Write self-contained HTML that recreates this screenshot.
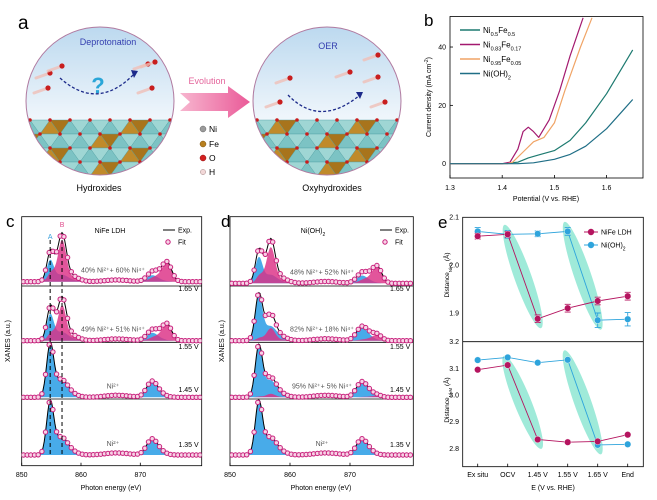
<!DOCTYPE html>
<html><head><meta charset="utf-8">
<style>
html,body{margin:0;padding:0;background:#fff;}
svg{display:block;font-family:"Liberation Sans",Arial,sans-serif;}
</style></head>
<body>
<svg id="fig" width="657" height="500" viewBox="0 0 657 500" xmlns="http://www.w3.org/2000/svg">
<defs>
  <linearGradient id="sky" x1="0" y1="0" x2="0" y2="1">
    <stop offset="0" stop-color="#bcd9ef"/><stop offset="0.6" stop-color="#eef5fb"/><stop offset="1" stop-color="#ffffff"/>
  </linearGradient>
  <linearGradient id="arrowg" x1="0" y1="0" x2="1" y2="0">
    <stop offset="0" stop-color="#f7b6cf"/><stop offset="1" stop-color="#ea5a98"/>
  </linearGradient>
  <clipPath id="clipL"><circle cx="100" cy="101" r="74"/></clipPath>
  <clipPath id="clipR"><circle cx="327" cy="101" r="74"/></clipPath>
  <clipPath id="clipC"><rect x="21.7" y="216" width="180" height="250"/></clipPath>
  <clipPath id="clipD"><rect x="230" y="216" width="183" height="250"/></clipPath>
  <clipPath id="clipB"><rect x="450" y="16" width="193" height="162"/></clipPath>
</defs>

<!-- Panel a -->
<g>
  <text x="18" y="29" font-size="19">a</text>
  <circle cx="100" cy="101" r="74" fill="url(#sky)"/>
  <circle cx="327" cy="101" r="74" fill="url(#sky)"/>
  <g id="crystL" clip-path="url(#clipL)"></g>
  <g id="crystR" clip-path="url(#clipR)"></g>
  <circle cx="100" cy="101" r="74" fill="none" stroke="#b07aa0" stroke-width="1"/>
  <circle cx="327" cy="101" r="74" fill="none" stroke="#b07aa0" stroke-width="1"/>
  <text x="108" y="45" font-size="9" fill="#3540b0" text-anchor="middle">Deprotonation</text>
  <path d="M60,78 Q98,112 135,73" fill="none" stroke="#1c2a8a" stroke-width="1.3" stroke-dasharray="3,2"/>
  <path d="M131,70 L138,71 L134,78 Z" fill="#1c2a8a"/>
  <text x="98" y="93" font-size="22" font-weight="bold" fill="#2aa6d8" text-anchor="middle">?</text>
  <text x="328" y="49" font-size="9" fill="#3540b0" text-anchor="middle">OER</text>
  <path d="M288,95 Q320,128 360,95" fill="none" stroke="#1c2a8a" stroke-width="1.3" stroke-dasharray="3,2"/>
  <path d="M356,92 L363,92 L360,99 Z" fill="#1c2a8a"/>
  <g id="molecules"></g>
  <path d="M180,93 L228,93 L228,86 L250,102 L228,118 L228,111 L180,111 L190,102 Z" fill="url(#arrowg)"/>
  <text x="207" y="84" font-size="9" fill="#e4649b" text-anchor="middle">Evolution</text>
  <g>
    <circle cx="203" cy="129" r="3" fill="#9a9a9a" stroke="#666" stroke-width="0.5"/><text x="209" y="132" font-size="8.5">Ni</text>
    <circle cx="203" cy="144" r="3" fill="#b8801e" stroke="#7a5010" stroke-width="0.5"/><text x="209" y="147" font-size="8.5">Fe</text>
    <circle cx="203" cy="158" r="3" fill="#d42020" stroke="#901010" stroke-width="0.5"/><text x="209" y="161" font-size="8.5">O</text>
    <circle cx="203" cy="172" r="2.6" fill="#f2d8d8" stroke="#a08080" stroke-width="0.5"/><text x="209" y="175" font-size="8.5">H</text>
  </g>
  <text x="99" y="191" font-size="9" text-anchor="middle">Hydroxides</text>
  <text x="332" y="191" font-size="9" text-anchor="middle">Oxyhydroxides</text>
</g>

<!-- Panel b -->
<g id="panelB">
  <text x="424" y="26" font-size="17">b</text>
  <rect x="450" y="16.5" width="193" height="161.5" fill="none" stroke="#000" stroke-width="0.8"/>
  <text transform="translate(431,97) rotate(-90)" font-size="7" text-anchor="middle">Current density (mA cm<tspan baseline-shift="super" font-size="5">-2</tspan>)</text>
  <text x="546" y="201" font-size="7" text-anchor="middle">Potential (V vs. RHE)</text>
</g>

<!-- Panel c -->
<g id="panelC">
  <text x="6" y="227" font-size="17">c</text>
  <text transform="translate(10,341) rotate(-90)" font-size="7" text-anchor="middle">XANES (a.u.)</text>
  <text x="111" y="490" font-size="7" text-anchor="middle">Photon energy (eV)</text>
  <text x="110" y="233" font-size="7" text-anchor="middle">NiFe LDH</text>
  <line x1="163" y1="230" x2="175" y2="230" stroke="#000" stroke-width="1"/>
  <text x="178" y="232.5" font-size="7">Exp.</text>
  <circle cx="168" cy="242" r="2.2" fill="#f7d3e6" stroke="#c8207c" stroke-width="1"/>
  <text x="178" y="244.5" font-size="7">Fit</text>
  <text x="64" y="239" font-size="7" fill="#3aa0dc" text-anchor="middle" id="peakAlabel">A</text>
  <text x="63" y="227" font-size="7" fill="#e0508f" text-anchor="middle" id="peakBlabel">B</text>
</g>

<!-- Panel d -->
<g id="panelD">
  <text x="221" y="227" font-size="17">d</text>
  <text transform="translate(224,341) rotate(-90)" font-size="7" text-anchor="middle">XANES (a.u.)</text>
  <text x="321" y="490" font-size="7" text-anchor="middle">Photon energy (eV)</text>
  <text x="313" y="233" font-size="7" text-anchor="middle">Ni(OH)<tspan baseline-shift="sub" font-size="5">2</tspan></text>
  <line x1="380" y1="230" x2="392" y2="230" stroke="#000" stroke-width="1"/>
  <text x="395" y="232.5" font-size="7">Exp.</text>
  <circle cx="385" cy="242" r="2.2" fill="#f7d3e6" stroke="#c8207c" stroke-width="1"/>
  <text x="395" y="244.5" font-size="7">Fit</text>
</g>

<!-- Panel e -->
<g id="panelE">
  <text x="438" y="228" font-size="17">e</text>
  <rect x="462.7" y="217.3" width="180.6" height="249.4" fill="none" stroke="#000" stroke-width="0.8"/>
  <line x1="462.7" y1="341.7" x2="643.3" y2="341.7" stroke="#000" stroke-width="0.8"/>
  <text transform="translate(449,275) rotate(-90)" font-size="6.5" text-anchor="middle">Distance<tspan baseline-shift="sub" font-size="4.5">Ni-O</tspan> (Å)</text>
  <text transform="translate(449,400) rotate(-90)" font-size="6.5" text-anchor="middle">Distance<tspan baseline-shift="sub" font-size="4.5">Ni-M</tspan> (Å)</text>
  <text x="553" y="490" font-size="7" text-anchor="middle">E (V vs. RHE)</text>
</g>

<script>
// ---------- Panel b data ----------
var bSeriesNames = ["Ni0.5Fe0.5", "Ni0.83Fe0.17", "Ni0.95Fe0.05", "Ni(OH)2"];
var bNiFe55V = [1.30, 1.40, 1.43, 1.45, 1.47, 1.50, 1.53, 1.56, 1.60, 1.63, 1.65];
var bNiFe55J = [0, 0, 0.5, 2, 3, 4.5, 8, 14, 24, 33, 39];
var bNiFe83V = [1.30, 1.40, 1.415, 1.43, 1.44, 1.45, 1.46, 1.47, 1.49, 1.51, 1.53, 1.555];
var bNiFe83J = [0, 0, 0.5, 5, 11, 12.5, 11, 9, 15, 25, 37, 50];
var bNiFe95V = [1.30, 1.41, 1.42, 1.44, 1.46, 1.48, 1.50, 1.52, 1.55, 1.572];
var bNiFe95J = [0, 0, 0.5, 4, 7.5, 9, 14, 25, 40, 50];
var bNiOHV = [1.30, 1.43, 1.46, 1.50, 1.53, 1.56, 1.60, 1.63, 1.65];
var bNiOHJ = [0, 0, 0.3, 1.5, 3.2, 6, 12, 18, 22];
var bXTicks = [1.3, 1.4, 1.5, 1.6];
var bYTicks = [0, 20, 40];

// ---------- Panel c/d data ----------
var voltLabels = ["1.35 V", "1.45 V", "1.55 V", "1.65 V"];
var ldhNi2Fraction = [1.00, 1.00, 0.49, 0.40];
var ohNi2Fraction = [1.00, 0.95, 0.82, 0.48];
var ldhAnnotations = ["Ni²⁺", "Ni²⁺", "49% Ni²⁺+ 51% Ni⁴⁺", "40% Ni²⁺+ 60% Ni⁴⁺"];
var ohAnnotations = ["Ni²⁺", "95% Ni²⁺+ 5% Ni⁴⁺", "82% Ni²⁺+ 18% Ni⁴⁺", "48% Ni²⁺+ 52% Ni⁴⁺"];
// Gaussian components: [center eV, height, width]
var ni2Peaks = [[854.8, 1.0, 0.6], [856.6, 0.30, 1.0], [858.0, 0.08, 1.2], [866.0, 0.04, 2.0], [871.9, 0.28, 0.9], [873.2, 0.07, 1.0]];
var ni4Peaks = [[856.8, 1.30, 0.7], [855.0, 0.30, 0.6], [858.6, 0.12, 1.2], [866.0, 0.03, 2.0], [872.6, 0.16, 1.0], [874.5, 0.60, 0.8]];
var eTicks = [850, 860, 870];

// ---------- Panel e data ----------
var eCategories = ["Ex situ", "OCV", "1.45 V", "1.55 V", "1.65 V", "End"];
var niODistLDH = [2.060, 2.064, 1.888, 1.910, 1.925, 1.935];
var niODistOH = [2.070, 2.064, 2.065, 2.070, 1.885, 1.887];
var niODistErrLDH = [0.006, 0.006, 0.008, 0.008, 0.008, 0.008];
var niODistErrOH = [0.008, 0.008, 0.006, 0.008, 0.015, 0.014];
var niMDistLDH = [3.095, 3.112, 2.833, 2.823, 2.826, 2.851];
var niMDistOH = [3.131, 3.141, 3.121, 3.132, 2.813, 2.815];
var niOTicks = [2.1, 2.0, 1.9];
var niMTicks = [3.2, 3.1, 3.0, 2.9, 2.8];

var NS = "http://www.w3.org/2000/svg";
function mk(tag, attrs, parent) {
  var el = document.createElementNS(NS, tag);
  for (var k in attrs) el.setAttribute(k, attrs[k]);
  parent.appendChild(el);
  return el;
}
function addRun(textEl, str, sub, size) {
  if (!str) return;
  var t = document.createElementNS(NS, "tspan");
  if (sub) { t.setAttribute("baseline-shift", "sub"); t.setAttribute("font-size", size); }
  t.appendChild(document.createTextNode(str));
  textEl.appendChild(t);
}

// ---------- Panel a decoration ----------
(function () {
  function lattice(g, cx, top) {
    var teal = "#7cc3c4", tealD = "#4f9fa3", brown = "#c08a2a";
    for (var r = 0; r < 4; r++) {
      for (var c = -1; c < 9; c++) {
        var x = cx - 80 + c * 20 + (r % 2) * 10, y = top + r * 14;
        var isFe = ((c + r * 2) % 4 === 1);
        var p = mk("polygon", {points: (x) + "," + (y + 14) + " " + (x + 10) + "," + y + " " + (x + 20) + "," + (y + 14), fill: isFe ? brown : teal, stroke: tealD, "stroke-width": 0.4}, g);
        
        
        var q = mk("polygon", {points: (x + 10) + "," + y + " " + (x + 20) + "," + (y + 14) + " " + (x + 30) + "," + y, fill: isFe ? "#a8741c" : "#9fd6d4", stroke: tealD, "stroke-width": 0.4}, g);
        
        
        var o = mk("circle", {cx: x + 10, cy: y, r: 1.8, fill: "#c81e1e"}, g);
        
        
      }
    }
  }
  lattice(document.getElementById("crystL"), 100, 120);
  lattice(document.getElementById("crystR"), 327, 120);
  var mol = document.getElementById("molecules");
  var mols = [[50, 73], [62, 66], [48, 88], [148, 64], [155, 62], [152, 88], [290, 78], [280, 102], [350, 72], [378, 55], [378, 77], [385, 102]];
  mols.forEach(function (m) {
    var t = mk("line", {x1: m[0] - 14, y1: m[1] + 5, x2: m[0], y2: m[1], stroke: "#f0c0b8", "stroke-width": 3, "stroke-linecap": "round", opacity: 0.8}, mol);
    
    
    var c = mk("circle", {cx: m[0], cy: m[1], r: 2.6, fill: "#c81e1e"}, mol);
    
    
  });
})();

// ---------- Panel b ----------
(function () {
  var g = document.getElementById("panelB");
  var X = function (v) { return 450 + (v - 1.3) * 522; };
  var Y = function (j) { return 163.7 - j * 2.917; };
  bXTicks.forEach(function (t) {
    var l = mk("line", {x1: X(t), y1: 178, x2: X(t), y2: 175, stroke: "#000", "stroke-width": 0.8}, g);
    
    
    var tx = mk("text", {x: X(t), y: 190, "font-size": 7, "text-anchor": "middle"}, g);
    tx.textContent = t.toFixed(1);
    
    
  });
  bYTicks.forEach(function (t) {
    var l = mk("line", {x1: 450, y1: Y(t), x2: 453, y2: Y(t), stroke: "#000", "stroke-width": 0.8}, g);
    
    
    var tx = mk("text", {x: 446, y: Y(t) + 2.5, "font-size": 7, "text-anchor": "end"}, g);
    tx.textContent = t;
    
    
  });
  var series = [[bNiFe55V, bNiFe55J, "#1d7a70"], [bNiFe83V, bNiFe83J, "#a3196f"], [bNiFe95V, bNiFe95J, "#f0a466"], [bNiOHV, bNiOHJ, "#1f6e86"]];
  var cg = mk("g", {"clip-path": "url(#clipB)"}, g);
  series.forEach(function (s, i) {
    var d = s[0].map(function (v, k) { return (k ? "L" : "M") + X(v).toFixed(1) + "," + Y(s[1][k]).toFixed(1); }).join(" ");
    var p = mk("path", {d: d, fill: "none", stroke: s[2], "stroke-width": 1.2, "stroke-linejoin": "round"}, cg);
    
    
    var ly = 30 + i * 14.5;
    var ll = mk("line", {x1: 460, y1: ly, x2: 480, y2: ly, stroke: s[2], "stroke-width": 1.4}, g);
    
    
  });
  var labels = [["Ni", "0.5", "Fe", "0.5"], ["Ni", "0.83", "Fe", "0.17"], ["Ni", "0.95", "Fe", "0.05"], ["Ni(OH)", "2", "", ""]];
  labels.forEach(function (lb, i) {
    var t = mk("text", {x: 483, y: 33 + i * 14.5, "font-size": 8}, g);
    
    
    addRun(t, lb[0], false);
    addRun(t, lb[1], true, 5.5);
    addRun(t, lb[2], false);
    addRun(t, lb[3], true, 5.5);
  });
})();

// ---------- Panels c, d ----------
function spectrumValue(peaks, e) {
  var s = 0;
  peaks.forEach(function (p) { s += p[1] * Math.exp(-0.5 * Math.pow((e - p[0]) / p[2], 2)); });
  return s;
}
var voltLabelY = [447, 392, 349, 291];
function drawXanes(gid, clipId, x0, scale, right, baselines, fractions, annos, annoX) {
  var g = document.getElementById(gid);
  var X = function (e) { return x0 + (e - 850) * scale; };
  var S = 52;
  var frame = mk("rect", {x: x0, y: 216.7, width: right - x0, height: 249, fill: "none", stroke: "#000", "stroke-width": 0.8}, g);
  
  
  [286, 342.3, 399].forEach(function (y) {
    var l = mk("line", {x1: x0, y1: y, x2: right, y2: y, stroke: "#000", "stroke-width": 0.8}, g);
    
    
  });
  eTicks.forEach(function (t) {
    var l = mk("line", {x1: X(t), y1: 465.7, x2: X(t), y2: 462.7, stroke: "#000", "stroke-width": 0.8}, g);
    
    
    var tx = mk("text", {x: X(t), y: 477, "font-size": 7, "text-anchor": "middle"}, g);
    tx.textContent = t;
    
    
  });
  var eMax = 850 + (right - x0) / scale;
  var cg = mk("g", {"clip-path": "url(#" + clipId + ")"}, g);
  for (var i = 0; i < baselines.length; i++) {
    var b = baselines[i], f2 = fractions[i], f4 = 1 - f2;
    var ptsB = [], ptsP = [], ptsT = [];
    for (var e = 850; e <= eMax + 0.01; e += 0.2) {
      var v2 = f2 * spectrumValue(ni2Peaks, e), v4 = f4 * spectrumValue(ni4Peaks, e);
      ptsB.push(X(e).toFixed(1) + "," + (b - S * v2).toFixed(1));
      ptsP.push(X(e).toFixed(1) + "," + (b - S * v4).toFixed(1));
      ptsT.push(X(e).toFixed(1) + "," + (b - S * (v2 + v4)).toFixed(1));
    }
    var start = "M" + X(850).toFixed(1) + "," + b + " L";
    var end = " L" + X(eMax).toFixed(1) + "," + b + " Z";
    var blue = mk("path", {d: start + ptsB.join(" L") + end, fill: "#3ea6e8", opacity: 0.95}, cg);
    
    
    if (f4 > 0.001) {
      var pink = mk("path", {d: start + ptsP.join(" L") + end, fill: "#dc2f85", opacity: 0.82}, cg);
      
      
    }
    var exp = mk("path", {d: "M" + ptsT.join(" L"), fill: "none", stroke: "#000", "stroke-width": 1}, cg);
    
    
    for (var e2 = 850.3; e2 <= eMax; e2 += 0.62) {
      var v = f2 * spectrumValue(ni2Peaks, e2) + f4 * spectrumValue(ni4Peaks, e2);
      var c = mk("circle", {cx: X(e2).toFixed(1), cy: (b - S * v).toFixed(1), r: 2.2, fill: "#f7d3e6", stroke: "#c8207c", "stroke-width": 1}, cg);
      
      
    }
    var vl = mk("text", {x: right - 3, y: voltLabelY[i], "font-size": 7, "text-anchor": "end"}, g);
    vl.textContent = voltLabels[i];
    
    
    var an = mk("text", {x: annoX, y: b - 9, "font-size": 7, fill: "#555", "text-anchor": "middle"}, g);
    an.textContent = annos[i];
    
    
  }
  return X;
}
var Xc = drawXanes("panelC", "clipC", 21.7, 5.93, 201.7, [455, 397.3, 340.7, 281.7], ldhNi2Fraction, ldhAnnotations, 113);
var Xd = drawXanes("panelD", "clipD", 230, 6.0, 413.3, [455, 397.3, 340.7, 283.3], ohNi2Fraction, ohAnnotations, 322);
(function () {
  var g = document.getElementById("panelC");
  [[854.8, "A"], [856.8, "B"]].forEach(function (p) {
    var l = mk("line", {x1: Xc(p[0]), y1: 240, x2: Xc(p[0]), y2: 455, stroke: "#000", "stroke-width": 1, "stroke-dasharray": "4,3"}, g);
    
    
  });
  var a = document.getElementById("peakAlabel");
  a.setAttribute("x", Xc(854.8));
  var bl = document.getElementById("peakBlabel");
  bl.setAttribute("x", Xc(856.8));
})();

// ---------- Panel e ----------
(function () {
  var g = document.getElementById("panelE");
  var X = function (i) { return 477.7 + i * 30; };
  var Yt = function (v) { return 265 - (v - 2.0) * 480; };
  var Yb = function (v) { return 395 - (v - 3.0) * 266.7; };
  eCategories.forEach(function (c, i) {
    var l = mk("line", {x1: X(i), y1: 466.7, x2: X(i), y2: 463.7, stroke: "#000", "stroke-width": 0.8}, g);
    
    
    var t = mk("text", {x: X(i), y: 477, "font-size": 7, "text-anchor": "middle"}, g);
    t.textContent = c;
    
    
  });
  niOTicks.forEach(function (v) {
    var t = mk("text", {x: 459, y: Yt(v) + 2.5, "font-size": 7, "text-anchor": "end"}, g);
    t.textContent = v.toFixed(1);
    
    
  });
  niMTicks.forEach(function (v) {
    var t = mk("text", {x: 459, y: Yb(v) + 2.5, "font-size": 7, "text-anchor": "end"}, g);
    t.textContent = v.toFixed(1);
    
    
  });
  function ellipse(i1, v1, i2, v2, Y, name) {
    var x1 = X(i1), y1 = Y(v1), x2 = X(i2), y2 = Y(v2);
    var cx = (x1 + x2) / 2, cy = (y1 + y2) / 2;
    var len = Math.sqrt((x2 - x1) * (x2 - x1) + (y2 - y1) * (y2 - y1));
    var ang = Math.atan2(y2 - y1, x2 - x1) * 180 / Math.PI;
    var e = mk("ellipse", {cx: cx, cy: cy, rx: len / 2 + 10, ry: 8.5, fill: "#5fdcc0", opacity: 0.6, transform: "rotate(" + ang + " " + cx + " " + cy + ")"}, g);
    
    
  }
  ellipse(1, niODistLDH[1], 2, niODistLDH[2], Yt, 'highlight-ldh-ni-o');
  ellipse(3, niODistOH[3], 4, niODistOH[4], Yt, 'highlight-oh-ni-o');
  ellipse(1, niMDistLDH[1], 2, niMDistLDH[2], Yb, 'highlight-ldh-ni-m');
  ellipse(3, niMDistOH[3], 4, niMDistOH[4], Yb, 'highlight-oh-ni-m');
  function series(vals, errs, Y, color, name) {
    var d = vals.map(function (v, i) { return (i ? "L" : "M") + X(i) + "," + Y(v).toFixed(1); }).join(" ");
    var p = mk("path", {d: d, fill: "none", stroke: color, "stroke-width": 0.9}, g);
    
    
    vals.forEach(function (v, i) {
      if (errs) {
        var e = errs[i];
        var eb = mk("path", {d: "M" + X(i) + "," + Y(v - e) + " L" + X(i) + "," + Y(v + e) + " M" + (X(i) - 3) + "," + Y(v - e) + " L" + (X(i) + 3) + "," + Y(v - e) + " M" + (X(i) - 3) + "," + Y(v + e) + " L" + (X(i) + 3) + "," + Y(v + e), stroke: color, "stroke-width": 0.9, fill: "none"}, g);
        
        
      }
      var c = mk("circle", {cx: X(i), cy: Y(v).toFixed(1), r: 3.3, fill: color, stroke: "#fff", "stroke-width": 0.4}, g);
      
      
    });
  }
  series(niODistOH, niODistErrOH, Yt, "#2ea4dc", "niOH2-ni-o");
  series(niODistLDH, niODistErrLDH, Yt, "#b5145f", "nife-ldh-ni-o");
  series(niMDistOH, null, Yb, "#2ea4dc", "niOH2-ni-m");
  series(niMDistLDH, null, Yb, "#b5145f", "nife-ldh-ni-m");
  [["#b5145f", "NiFe LDH", 232], ["#2ea4dc", "Ni(OH)", 245]].forEach(function (l, k) {
    var ln = mk("line", {x1: 584, y1: l[2], x2: 598, y2: l[2], stroke: l[0], "stroke-width": 1}, g);
    
    
    var c = mk("circle", {cx: 591, cy: l[2], r: 3.2, fill: l[0]}, g);
    
    
    var t = mk("text", {x: 601, y: l[2] + 2.5, "font-size": 7}, g);
    addRun(t, l[1], false);
    if (k) addRun(t, "2", true, 5);
    
    
  });
})();
</script>
</svg>
</body></html>
